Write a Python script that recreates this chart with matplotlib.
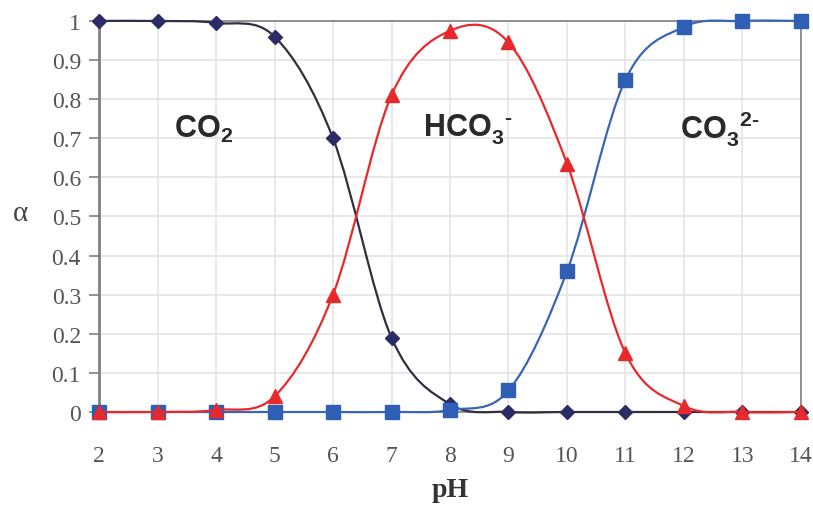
import matplotlib
matplotlib.use("Agg")
import matplotlib.pyplot as plt
from matplotlib.path import Path
from matplotlib.patches import PathPatch

# ============================
# Datos: fracciones de especies del carbonato vs pH
# ============================
ph = [2, 3, 4, 5, 6, 7, 8, 9, 10, 11, 12, 13, 14]
alfa_co2 = [1.0, 1.0, 0.995, 0.96, 0.70, 0.19, 0.02, 0.0, 0.0, 0.0, 0.0, 0.0, 0.0]
alfa_hco3 = [0.0, 0.0, 0.005, 0.04, 0.30, 0.81, 0.975, 0.945, 0.635, 0.15, 0.015, 0.0, 0.0]
alfa_co3 = [0.0, 0.0, 0.0, 0.0, 0.0, 0.0, 0.005, 0.055, 0.36, 0.85, 0.985, 1.0, 1.0]

etiquetas_x = [str(v) for v in ph]
etiquetas_y = ["0", "0.1", "0.2", "0.3", "0.4", "0.5", "0.6", "0.7", "0.8", "0.9", "1"]

plt.rcParams['mathtext.fontset'] = 'custom'
plt.rcParams['mathtext.bf'] = 'Liberation Sans:bold'
plt.rcParams['mathtext.rm'] = 'Liberation Sans:bold'


def curva_suave(x, y):
    # linea suavizada tipo Excel (Bezier por tramos a traves de los puntos)
    verts = [(x[0], y[0])]
    codes = [Path.MOVETO]
    n = len(x)
    for i in range(n - 1):
        x0, y0 = (x[i - 1], y[i - 1]) if i > 0 else (x[i], y[i])
        x1, y1 = x[i], y[i]
        x2, y2 = x[i + 1], y[i + 1]
        x3, y3 = (x[i + 2], y[i + 2]) if i + 2 < n else (x2, y2)
        c1 = (x1 + (x2 - x0) / 6, y1 + (y2 - y0) / 6)
        c2 = (x2 - (x3 - x1) / 6, y2 - (y3 - y1) / 6)
        verts += [c1, c2, (x2, y2)]
        codes += [Path.CURVE4] * 3
    return Path(verts, codes)


fig = plt.figure(figsize=(8.13, 5.10), dpi=100)
ax = fig.add_axes([0.1218, 0.1902, 0.8634, 0.7667])

series = [
    (alfa_co2, "#2f2f3f", "#2b2b66", "D", 7),
    (alfa_co3, "#3a64b4", "#2e5fb5", "s", 9.5),
    (alfa_hco3, "#e8292c", "#e8292c", "^", 10),
]
for z, (valores, color_linea, color_marca, marca, tam) in enumerate(series):
    patch = PathPatch(curva_suave(ph, valores), facecolor='none',
                      edgecolor=color_linea, lw=1.6, zorder=3 + z, clip_on=False)
    ax.add_patch(patch)
    ax.plot(ph, valores, linestyle='none', marker=marca, markersize=tam,
            color=color_marca, zorder=3.5 + z, clip_on=False)

ax.set_xlim(2, 14)
ax.set_ylim(0, 1)
ax.set_xticks(ph)
ax.set_xticklabels(etiquetas_x)
ax.set_yticks([i / 10 for i in range(11)])
ax.set_yticklabels(etiquetas_y)
ax.grid(True, color="#e4e4e4", lw=1.2)
ax.set_axisbelow(True)

for lado in ['left', 'right', 'top', 'bottom']:
    ax.spines[lado].set_color("#808080")
    ax.spines[lado].set_linewidth(1.2)
ax.spines['left'].set_linewidth(2)

ax.tick_params(axis='y', length=7, width=1.2, color="#808080", pad=6,
               labelsize=17, labelcolor="#555555")
ax.tick_params(axis='x', length=0, pad=24, labelsize=17, labelcolor="#555555")
for t in ax.get_xticklabels() + ax.get_yticklabels():
    t.set_fontfamily("Liberation Serif")

ax.set_xlabel("pH", fontsize=20, fontweight='bold', family="Liberation Serif",
              color="#333333", labelpad=8)
fig.text(0.025, 0.58, "α", fontsize=21, family="Liberation Serif",
         color="#444444", ha='center', va='center')

# Etiquetas de especies
ax.text(3.28, 0.725, r'$\mathbf{CO_2}$', fontsize=22, color="#2a2a2a",
        ha='left', va='center')
ax.text(7.53, 0.725, r'$\mathbf{HCO_3^{\ \ \text{-}}}$', fontsize=22, color="#2a2a2a",
        ha='left', va='center')
ax.text(11.93, 0.725, r'$\mathbf{CO_3^{\ \ 2\text{-}}}$', fontsize=22, color="#2a2a2a",
        ha='left', va='center')

fig.savefig("out.png", dpi=100)
